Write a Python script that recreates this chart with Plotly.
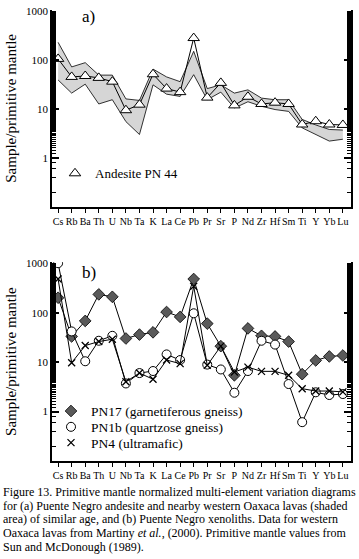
import plotly.graph_objects as go

elements = ["Cs", "Rb", "Ba", "Th", "U", "Nb", "Ta", "K", "La", "Ce", "Pb",
            "Pr", "Sr", "P", "Nd", "Zr", "Hf", "Sm", "Ti", "Y", "Yb", "Lu"]

# Panel a
pn44 = [105, 45, 47, 43, 36, 9.4, 12.2, 51, 26, 22, 280, 17, 34, 11.8, 17.7,
        12.6, 13.4, 12.6, 4.8, 5.6, 4.8, 4.7]
oaxaca_upper = [229, 72, 88, 49, 49, 16, 14.9, 65, 45, 36, 150, 26, 31, 21,
                24.5, 16.6, 15.4, 15.4, 6.1, 4.7, 3.8, 3.7]
oaxaca_lower = [39, 21, 32, 12.6, 15.4, 5.5, 3.0, 31, 20, 18, 50, 15.4, 22,
                10.4, 14, 11.3, 9.7, 8.9, 4.1, 2.95, 2.2, 2.4]

# Panel b
pn17 = [200, 33, 68, 234, 209, 30, 36, 40, 103, 82, 479, 60, 21, 5.4, 48, 34,
        33, 26, 5.7, 10.8, 13, 13.6]
pn1b = [1000, 41.7, 10.4, 27, 34, 3.7, 6.0, 6.6, 14.3, 11, 97, 8.9, 7.1, 2.4,
        6.6, 27, 22.6, 3.6, 0.61, 2.45, 2.16, 2.26]
pn4 = [479, 9.7, 21.6, 26, 29, 4.0, 6.0, 4.5, 11, 9.3, 342, 8.6, 21, 6.3, 7.9,
       6.5, 6.5, 5.4, 2.9, 2.6, 2.6, 2.5]

ytickvals = [1, 10, 100, 1000]
yticktext = ["1", "10", "100", "1000"]

caption_lines = [
    "Figure 13. Primitive mantle normalized multi-element variation diagrams",
    "for (a) Puente Negro andesite and nearby western Oaxaca lavas (shaded",
    "area) of similar age, and (b) Puente Negro xenoliths. Data for western",
    "Oaxaca lavas from Martiny <i>et al.</i>, (2000). Primitive mantle values from",
    "Sun and McDonough (1989).",
]

FONT = "Liberation Serif"
W, H = 359, 559
ML, MR, MT, MB = 52, 8, 5, 98
PW = W - ML - MR
PH = H - MT - MB


def py(p):
    return (H - MB - p) / PH


def px(p):
    return (p - ML) / PW


fig = go.Figure()

# shaded band
fig.add_trace(go.Scatter(x=elements, y=oaxaca_lower, mode="lines",
                         line=dict(color="black", width=0.8),
                         showlegend=False, xaxis="x", yaxis="y"))
fig.add_trace(go.Scatter(x=elements, y=oaxaca_upper, mode="lines",
                         line=dict(color="black", width=0.8), fill="tonexty",
                         fillcolor="#d6d6d6", showlegend=False,
                         xaxis="x", yaxis="y"))
fig.add_trace(go.Scatter(x=elements, y=pn44, mode="lines+markers",
                         line=dict(color="black", width=1),
                         marker=dict(symbol="triangle-up", size=10, color="white",
                                     line=dict(color="black", width=1)),
                         showlegend=False, xaxis="x", yaxis="y"))
fig.add_trace(go.Scatter(x=[None], y=[None], mode="markers", name="Andesite PN 44",
                         marker=dict(symbol="triangle-up", size=10, color="white",
                                     line=dict(color="black", width=1)),
                         legend="legend", xaxis="x", yaxis="y"))

mk17 = dict(symbol="diamond", size=9, color="#5a5a5a", line=dict(color="black", width=0.8))
mk1b = dict(symbol="circle", size=9, color="white", line=dict(color="black", width=1))
mk4 = dict(symbol="x-thin", size=7, color="black", line=dict(color="black", width=1.3))

series_b = [(pn17, mk17, "PN17 (garnetiferous gneiss)"),
            (pn1b, mk1b, "PN1b (quartzose gneiss)"),
            (pn4, mk4, "PN4 (ultramafic)")]

for vals, mk, name in series_b:
    fig.add_trace(go.Scatter(x=elements, y=vals, mode="lines+markers",
                             line=dict(color="black", width=1), marker=mk,
                             showlegend=False, xaxis="x2", yaxis="y2"))
legend_names = ["legend2", "legend3", "legend4"]
for (vals, mk, name), lg in zip(series_b, legend_names):
    fig.add_trace(go.Scatter(x=[None], y=[None], mode="markers", name=name,
                             marker=mk, legend=lg, xaxis="x2", yaxis="y2"))

xcommon = dict(type="category", categoryorder="array", categoryarray=elements,
               range=[-0.45, 21.6], showline=True, linecolor="black", linewidth=1.5,
               ticks="outside", ticklen=4, tickcolor="black", tickwidth=1,
               showgrid=False, zeroline=False,
               tickfont=dict(family=FONT, size=10, color="black"), tickangle=0)
ycommon = dict(type="log", range=[-1, 3.02], showline=True, linecolor="black",
               linewidth=1.5, mirror="allticks", ticks="inside", ticklen=7,
               tickwidth=2, tickcolor="black", tickvals=ytickvals,
               ticktext=yticktext, showgrid=False, zeroline=False,
               minor=dict(ticks="inside", ticklen=4, tickcolor="black",
                          tickwidth=1, showgrid=False),
               tickfont=dict(family=FONT, size=11, color="black"),
               title=dict(text="Sample/primitive mantle", standoff=6,
                          font=dict(family=FONT, size=15, color="black")))

leg_common = dict(xanchor="left", yanchor="top", bgcolor="rgba(0,0,0,0)",
                  itemwidth=30)

fig.update_layout(
    width=W, height=H, autosize=False,
    margin=dict(l=ML, r=MR, t=MT, b=MB),
    paper_bgcolor="white", plot_bgcolor="white",
    font=dict(family=FONT, color="black"),
    xaxis=dict(xcommon, anchor="y"),
    yaxis=dict(ycommon, domain=[py(204), 1.0], anchor="x"),
    xaxis2=dict(xcommon, anchor="y2"),
    yaxis2=dict(ycommon, domain=[0.0, py(260)], anchor="x2"),
    legend=dict(leg_common, x=px(55), y=py(155), font=dict(family=FONT, size=13)),
    legend2=dict(leg_common, x=px(51), y=py(395), font=dict(family=FONT, size=13.5)),
    legend3=dict(leg_common, x=px(51), y=py(411), font=dict(family=FONT, size=13.5)),
    legend4=dict(leg_common, x=px(51), y=py(427), font=dict(family=FONT, size=13.5)),
    showlegend=True,
)

fig.add_annotation(text="a)", x=px(88), y=py(12), xref="paper", yref="paper",
                   xanchor="center", yanchor="middle", showarrow=False,
                   font=dict(family=FONT, size=17, color="black"))
fig.add_annotation(text="b)", x=px(89), y=py(270), xref="paper", yref="paper",
                   xanchor="center", yanchor="middle", showarrow=False,
                   font=dict(family=FONT, size=17, color="black"))

for i, line in enumerate(caption_lines):
    fig.add_annotation(text=line, x=px(1), y=py(492 + 14 * i), xref="paper",
                       yref="paper", xanchor="left", yanchor="middle",
                       showarrow=False, align="left",
                       font=dict(family=FONT, size=12, color="black"))

fig.write_html("out.html", config={"displayModeBar": False},
               post_script="document.body.style.margin='0';"
                           "document.body.style.overflow='hidden';")
